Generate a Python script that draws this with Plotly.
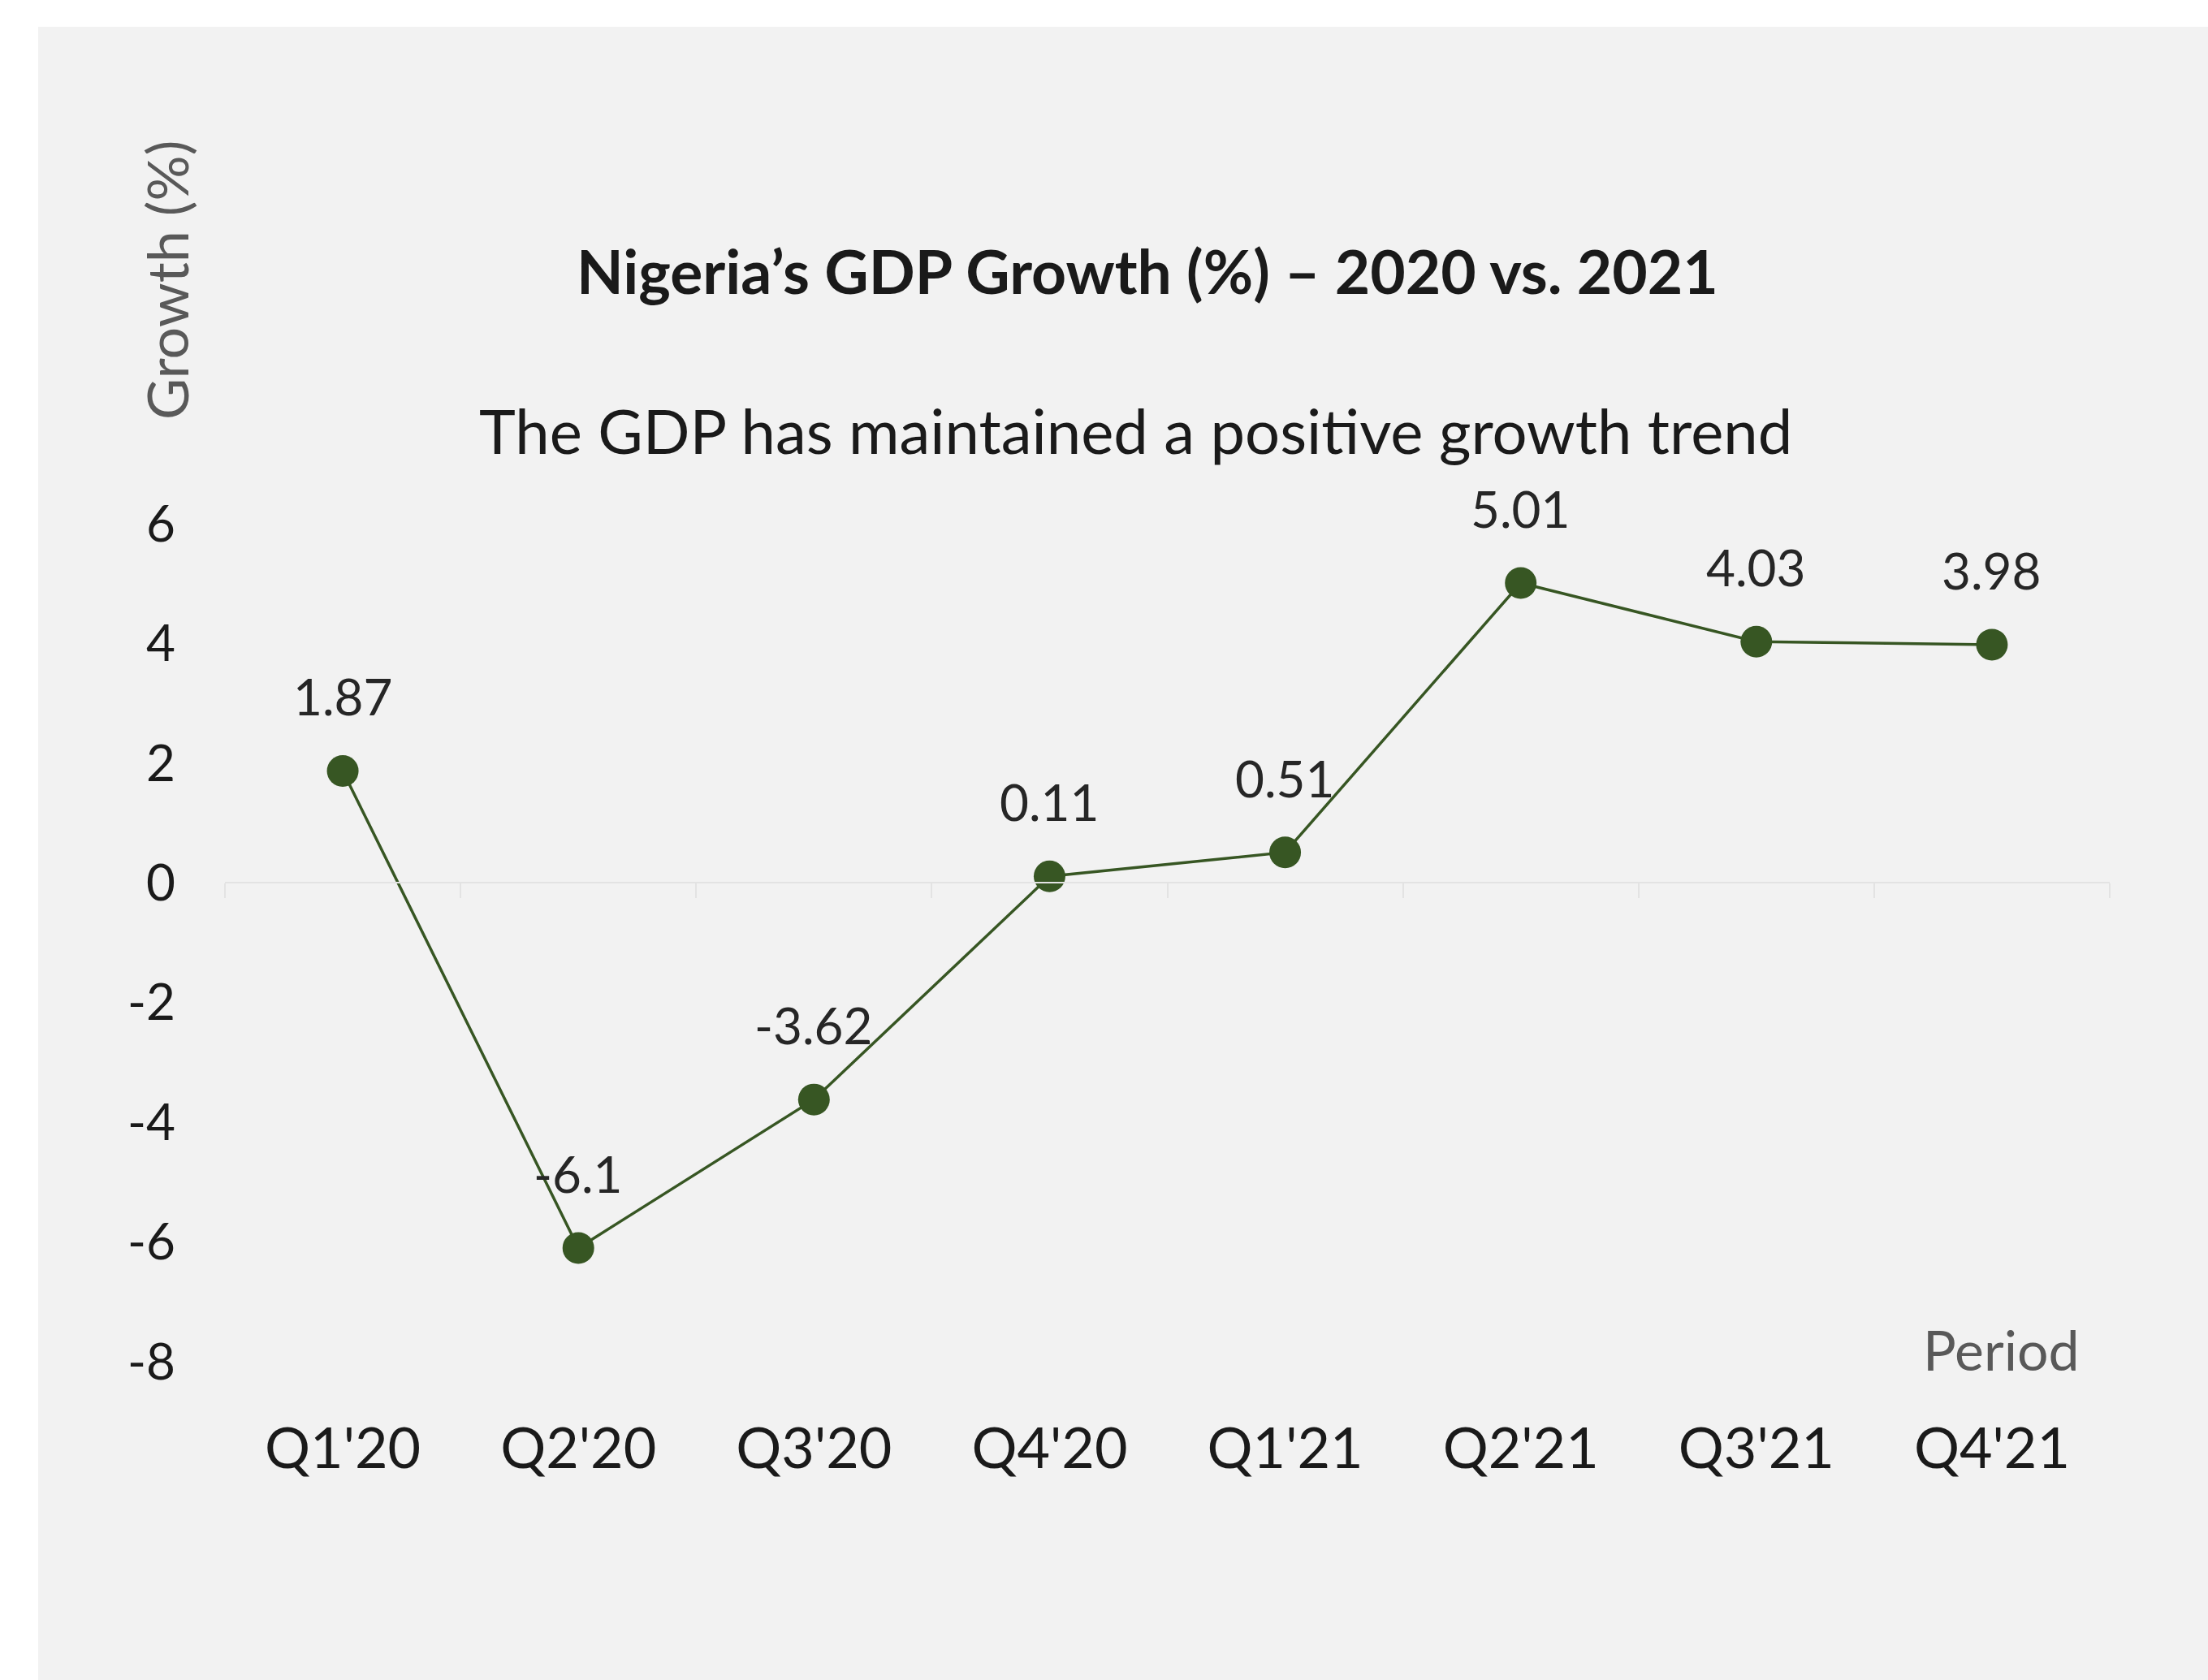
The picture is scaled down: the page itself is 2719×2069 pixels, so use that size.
import plotly.graph_objects as go

# ---- data ----
periods = ["Q1'20", "Q2'20", "Q3'20", "Q4'20", "Q1'21", "Q2'21", "Q3'21", "Q4'21"]
growth = [1.87, -6.1, -3.62, 0.11, 0.51, 5.01, 4.03, 3.98]
y_ticks = [-8, -6, -4, -2, 0, 2, 4, 6]
y_tick_labels = ["-8", "-6", "-4", "-2", "0", "2", "4", "6"]

title_text = "Nigeria’s GDP Growth (%) – 2020 vs. 2021"
subtitle_text = "The GDP has maintained a positive growth trend"
y_title = "Growth (%)"
x_title = "Period"

FONT = "Lato, 'Open Sans', sans-serif"
GREEN = "#375623"
W, H = 2719, 2069
L, R, T, B = 277, 121, 645, 392

fig = go.Figure()

fig.add_trace(go.Scatter(
    x=periods, y=growth, mode="lines+markers",
    line=dict(color=GREEN, width=3.5),
    marker=dict(color=GREEN, size=39),
    showlegend=False, hoverinfo="x+y",
))
# invisible trace on the zero-line axis (gives it its categories)
fig.add_trace(go.Scatter(
    x=periods, y=growth, xaxis="x2", mode="markers",
    marker=dict(opacity=0), showlegend=False, hoverinfo="skip",
))

annotations = []
for p, v in zip(periods, growth):
    annotations.append(dict(
        x=p, y=v, xref="x", yref="y", text=str(v), showarrow=False,
        yshift=92, xanchor="center", yanchor="middle",
        font=dict(family=FONT, size=62, color="#262626"),
    ))

pw = W - L - R
ph = H - T - B
def px(x):
    return (x - L) / pw
def py(y):
    return (H - B - y) / ph

annotations += [
    dict(x=px(1413), y=py(333), xref="paper", yref="paper", text="<b>" + title_text + "</b>",
         showarrow=False, xanchor="center", yanchor="middle",
         font=dict(family=FONT, size=75, color="#1a1a1a")),
    dict(x=px(1398), y=py(529), xref="paper", yref="paper", text=subtitle_text,
         showarrow=False, xanchor="center", yanchor="middle",
         font=dict(family=FONT, size=76, color="#1a1a1a")),
    dict(x=px(205), y=py(345), xref="paper", yref="paper", text=y_title, textangle=-90,
         showarrow=False, xanchor="center", yanchor="middle",
         font=dict(family=FONT, size=70, color="#595959")),
    dict(x=px(2464), y=py(1661), xref="paper", yref="paper", text=x_title,
         showarrow=False, xanchor="center", yanchor="middle",
         font=dict(family=FONT, size=68, color="#595959")),
]

fig.update_layout(
    width=W, height=H,
    margin=dict(l=L, r=R, t=T, b=B, pad=0),
    paper_bgcolor="white",
    plot_bgcolor="rgba(0,0,0,0)",
    font=dict(family=FONT, color="#262626"),
    annotations=annotations,
    shapes=[dict(type="rect", xref="paper", yref="paper",
                 x0=px(47), x1=px(W + 10), y0=py(H + 10), y1=py(33),
                 fillcolor="#f2f2f2", line=dict(width=0), layer="below")],
    xaxis=dict(
        type="category", categoryorder="array", categoryarray=periods,
        range=[-0.5, len(periods) - 0.5],
        showgrid=False, zeroline=False, showline=False, ticks="",
        tickfont=dict(family=FONT, size=70, color="#1a1a1a"),
        ticklabelstandoff=60,
    ),
    xaxis2=dict(
        type="category", categoryorder="array", categoryarray=periods,
        range=[-0.5, len(periods) - 0.5],
        overlaying="x", anchor="free", position=8 / 14,
        showgrid=False, zeroline=False, showline=True, linecolor="#e3e3e3", linewidth=2,
        ticks="outside", tickson="boundaries", ticklen=18, tickcolor="#e3e3e3", tickwidth=2,
        showticklabels=False,
    ),
    yaxis=dict(
        range=[-8, 6], tickvals=y_ticks, ticktext=y_tick_labels,
        showgrid=False, zeroline=False, showline=False, ticks="",
        tickfont=dict(family=FONT, size=62, color="#1a1a1a"),
        ticklabelstandoff=60,
    ),
)

fig.write_html("out.html")
